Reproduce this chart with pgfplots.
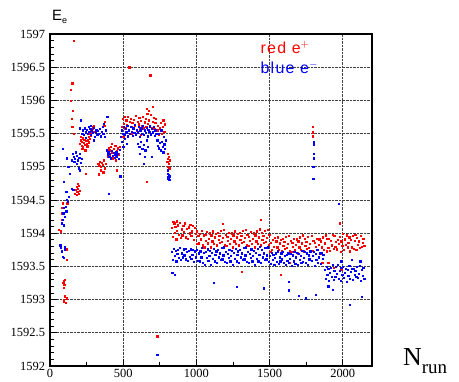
\documentclass[border=0pt]{standalone}
\usepackage{pgfplots}
\pgfplotsset{compat=1.18}
\usepackage{fontspec}
\setmainfont{Liberation Serif}
\newfontfamily\timesf{Liberation Serif}
\newfontfamily\helv{Liberation Sans}
\begin{document}
\begin{tikzpicture}
\begin{axis}[name=ax, scale only axis, width=322bp, height=332bp,
  xmin=0, xmax=2200, ymin=1592, ymax=1597,
  xtick={0,500,1000,1500,2000}, ytick={1592,1592.5,1593,1593.5,1594,1594.5,1595,1595.5,1596,1596.5,1597},
  xticklabels={0,500,1000,1500,2000},
  yticklabels={1592,1592.5,1593,1593.5,1594,1594.5,1595,1595.5,1596,1596.5,1597},
  minor x tick num=1, minor y tick num=4,
  tick align=inside, xtick pos=bottom, ytick pos=left,
  major tick length=7bp, minor tick length=3.5bp,
  tick style={black, line width=0.8pt},
  axis line style={black, line width=1.1pt},
  grid=major, major grid style={black!75, densely dotted, line width=0.7pt},
  yticklabel style={xshift=-1.5bp},
  tick label style={font=\timesf\fontsize{12.5}{14}\selectfont},
  clip=false]
\addplot[only marks, mark=square*, mark size=0.62bp, color=red] coordinates {
(62,1594.05)(75,1594.03)(80,1594.2)(82,1594.3)(84,1594.38)(86,1594.45)(90,1593.25)(92,1593.28)(95,1593.18)(97,1593.22)(100,1593.3)(92,1593.0)(96,1592.97)(100,1593.05)(105,1592.95)(112,1593.02)(115,1593.6)(110,1593.76)(118,1594.45)
(144,1596.16)(151,1596.26)(144,1595.99)(155,1595.84)(150,1595.73)(152,1595.6)(164,1595.5)(164,1596.9)
(170,1594.6)(175,1594.65)(180,1594.58)(183,1594.7)(186,1594.62)(190,1594.67)(194,1594.6)(198,1594.72)(202,1594.64)(188,1594.75)
(205,1595.35)(210,1595.4)(214,1595.32)(218,1595.38)(222,1595.43)(226,1595.3)(230,1595.36)(234,1595.41)(238,1595.33)(242,1595.39)(246,1595.44)(250,1595.35)(254,1595.31)(258,1595.4)(262,1595.37)(266,1595.45)(270,1595.42)(274,1595.5)(278,1595.47)(282,1595.55)(286,1595.52)(290,1595.58)(294,1595.6)(298,1595.53)(300,1595.62)(220,1595.27)(240,1595.25)(212,1595.45)(232,1595.48)(245,1594.9)(335,1594.89)
(330,1595.05)(336,1595.02)(342,1595.08)(348,1595.0)(354,1595.06)(360,1595.03)(366,1595.1)(372,1594.98)(378,1595.05)(345,1594.95)(364,1594.92)(370,1595.62)(375,1595.68)
(392,1595.2)(398,1595.15)(404,1595.25)(410,1595.18)(416,1595.3)(422,1595.22)(428,1595.13)(434,1595.27)(440,1595.2)(446,1595.32)(452,1595.16)(458,1595.24)(464,1595.28)(470,1595.19)(476,1595.3)(420,1595.35)(450,1595.1)(400,1595.28)(455,1594.95)
(490,1595.6)(496,1595.72)(502,1595.65)(508,1595.76)(514,1595.58)(520,1595.7)(526,1595.63)(532,1595.75)(538,1595.56)(544,1595.68)(550,1595.73)(556,1595.6)(562,1595.66)(568,1595.58)(574,1595.71)(580,1595.62)(586,1595.77)(592,1595.55)(598,1595.68)(604,1595.64)(610,1595.74)(616,1595.57)(622,1595.69)(628,1595.61)(634,1595.76)(640,1595.58)(646,1595.67)(652,1595.73)(658,1595.6)(664,1595.8)(670,1595.65)(676,1595.7)(682,1595.62)(688,1595.78)(694,1595.59)(700,1595.68)(706,1595.74)(712,1595.57)(718,1595.66)(724,1595.72)(660,1595.88)(700,1595.9)(672,1595.85)(560,1595.5)(620,1595.48)(520,1595.52)(500,1595.45)(663,1594.77)
(732,1595.55)(738,1595.62)(744,1595.48)(750,1595.58)(756,1595.66)(762,1595.5)(768,1595.6)(774,1595.7)(780,1595.53)(786,1595.64)(790,1595.4)
(800,1595.08)(803,1595.12)(806,1595.0)(809,1595.15)(812,1595.05)(815,1594.98)(818,1595.1)(805,1595.2)
(733,1592.45)(685,1596.38)(541,1596.5)
(832,1594.08)(838,1593.95)(844,1594.14)(850,1594.01)(856,1594.10)(862,1593.91)(868,1594.04)(874,1594.12)(880,1593.98)(886,1594.16)(892,1593.93)(898,1594.06)(904,1593.97)(910,1594.11)(916,1594.02)(922,1594.15)(928,1593.94)(934,1594.07)(940,1593.92)(946,1594.09)(952,1594.00)(958,1594.13)(964,1593.96)(970,1594.03)(976,1594.11)(982,1593.90)(988,1594.08)(994,1593.99)(841,1594.17)(853,1594.15)(866,1594.18)
(1000,1594.03)(1006,1593.84)(1012,1593.96)(1018,1593.85)(1024,1593.99)(1030,1593.91)(1036,1594.04)(1042,1593.82)(1048,1593.97)(1054,1593.79)(1060,1593.98)(1066,1593.89)(1072,1594.02)(1078,1593.85)(1084,1593.92)(1090,1594.00)(1096,1593.79)(1102,1593.97)(1108,1593.88)(1114,1594.03)(1120,1593.84)(1126,1593.94)(1132,1593.99)(1138,1593.82)(1144,1594.01)(1150,1593.90)(1156,1593.96)(1162,1593.86)(1168,1594.04)(1174,1593.87)(1180,1593.93)(1186,1594.05)(1192,1593.83)(1198,1593.98)(1204,1593.81)(1210,1593.95)(1216,1593.89)(1222,1594.01)(1228,1593.84)(1234,1593.92)(1240,1594.00)(1246,1593.79)(1252,1593.97)(1258,1593.88)(1264,1594.03)(1270,1593.84)(1276,1593.94)(1282,1593.99)(1288,1593.82)(1294,1594.01)(1300,1593.90)(1306,1593.96)(1312,1593.86)(1318,1594.04)(1324,1593.87)(1330,1593.93)(1336,1594.05)(1342,1593.83)(1348,1593.98)(1354,1593.81)(1360,1593.95)(1366,1593.89)(1372,1594.02)(1378,1593.84)(1384,1593.92)(1390,1594.00)(1396,1593.79)(1402,1593.97)(1408,1593.88)(1414,1594.03)(1420,1593.84)(1426,1593.94)(1432,1594.06)(1438,1593.82)(1444,1594.01)(1450,1593.90)(1456,1593.96)(1462,1593.86)(1468,1594.04)(1474,1593.87)(1480,1593.93)(1486,1594.05)(1492,1593.83)(1498,1593.98)
(1178,1594.14)(1438,1594.2)(1308,1593.42)(1575,1593.37)(1979,1594.15)(1640,1593.55)(1860,1593.55)(1820,1593.6)(1900,1593.55)(1940,1593.48)(1990,1593.45)
(1504,1593.72)(1510,1593.86)(1516,1593.75)(1522,1593.90)(1528,1593.80)(1534,1593.93)(1540,1593.71)(1546,1593.88)(1552,1593.79)(1558,1593.94)(1564,1593.75)(1570,1593.85)(1576,1593.90)(1582,1593.73)(1588,1593.92)(1594,1593.81)(1600,1593.87)(1606,1593.77)(1612,1593.95)(1618,1593.78)(1624,1593.84)(1630,1593.96)(1636,1593.74)(1642,1593.89)(1648,1593.72)(1654,1593.86)(1660,1593.80)(1666,1593.92)(1672,1593.75)(1678,1593.83)(1684,1593.91)(1690,1593.70)(1696,1593.88)(1702,1593.79)(1708,1593.94)(1714,1593.75)(1720,1593.85)(1726,1593.97)(1732,1593.73)(1738,1593.92)(1744,1593.81)(1750,1593.87)(1756,1593.77)(1762,1593.95)(1768,1593.78)(1774,1593.84)(1786,1593.96)(1792,1593.74)(1798,1593.89)(1804,1593.72)(1810,1593.86)(1816,1593.80)(1822,1593.92)(1828,1593.75)(1834,1593.83)(1840,1593.91)(1846,1593.70)(1852,1593.88)(1858,1593.79)(1864,1593.94)(1870,1593.75)(1876,1593.85)(1882,1593.97)(1888,1593.73)(1894,1593.92)
(1795,1595.6)(1795,1595.46)(1797,1595.52)
(1900,1593.78)(1906,1593.92)(1912,1593.74)(1918,1593.89)(1924,1593.82)(1930,1593.98)(1936,1593.77)(1942,1593.96)(1948,1593.80)(1954,1593.87)(1960,1593.76)(1966,1593.90)(1972,1593.84)(1978,1593.95)(1984,1593.72)(1990,1593.88)(1996,1593.81)(2002,1593.99)(2008,1593.75)(2014,1593.91)(2020,1593.83)(2026,1593.97)(2032,1593.79)(2038,1593.86)(2044,1593.94)(2050,1593.73)(2056,1593.90)(2062,1593.79)(2068,1593.96)(2074,1593.77)(2080,1593.89)(2086,1593.98)(2092,1593.75)(2098,1593.93)(2104,1593.83)(2110,1593.88)(2116,1593.78)(2122,1593.96)(2128,1593.80)(2134,1593.86)(2140,1593.92)(2146,1593.81)
};
\addplot[only marks, mark=square*, mark size=0.62bp, color=blue] coordinates {
(70,1593.82)(75,1593.78)(78,1593.72)(82,1593.73)(85,1593.65)(96,1593.63)(100,1593.8)(103,1593.76)(82,1594.15)(86,1594.2)(90,1594.3)(92,1594.12)(95,1594.38)(100,1594.25)(105,1594.4)(110,1594.33)(96,1594.77)(110,1594.63)(115,1594.5)(120,1594.48)(130,1594.55)(150,1594.67)(158,1594.66)
(89,1595.27)(115,1595.13)(125,1595.0)(135,1594.9)(150,1595.1)(155,1595.2)(160,1595.15)(165,1595.08)(170,1595.12)(175,1595.22)(180,1595.05)(185,1595.17)(190,1595.1)(195,1594.98)(200,1595.14)(205,1595.2)(210,1595.06)(215,1595.12)(205,1594.95)(205,1595.58)(210,1595.7)
(220,1595.5)(226,1595.55)(232,1595.48)(238,1595.58)(244,1595.52)(250,1595.56)(256,1595.5)(262,1595.6)(268,1595.53)(274,1595.57)(280,1595.48)(286,1595.55)(292,1595.51)(298,1595.59)(304,1595.45)(310,1595.52)(316,1595.56)(322,1595.48)(328,1595.54)(334,1595.5)(340,1595.57)(346,1595.46)(352,1595.53)(358,1595.6)(364,1595.5)(244,1595.44)(280,1595.62)(300,1595.4)
(385,1595.25)(392,1595.18)(398,1595.22)(404,1595.15)(410,1595.2)(416,1595.13)(422,1595.24)(428,1595.17)(434,1595.21)(440,1595.14)(446,1595.19)(452,1595.23)(458,1595.16)(464,1595.2)(470,1595.12)(476,1595.26)(372,1595.45)(378,1595.55)(365,1595.65)(390,1595.75)(400,1594.6)(480,1594.86)
(485,1595.45)(491,1595.55)(497,1595.5)(503,1595.6)(509,1595.48)(515,1595.57)(521,1595.52)(527,1595.62)(533,1595.46)(539,1595.55)(545,1595.5)(551,1595.6)(557,1595.53)(563,1595.47)(569,1595.58)(575,1595.51)(581,1595.63)(587,1595.49)(593,1595.56)(599,1595.52)(605,1595.6)(611,1595.45)(617,1595.54)(623,1595.58)(629,1595.5)(635,1595.62)(641,1595.48)(647,1595.55)(653,1595.51)(659,1595.59)(665,1595.46)(671,1595.56)(677,1595.53)(683,1595.61)(689,1595.49)(695,1595.57)(701,1595.52)(707,1595.6)(713,1595.47)(719,1595.55)(725,1595.5)(490,1595.38)(510,1595.42)(500,1595.3)(525,1595.35)
(600,1595.35)(610,1595.3)(620,1595.38)(630,1595.27)(640,1595.33)(650,1595.25)(660,1595.4)(670,1595.3)(615,1595.2)(645,1595.15)(640,1595.05)(697,1595.15)
(732,1595.4)(738,1595.32)(744,1595.28)(750,1595.36)(756,1595.25)(762,1595.38)(768,1595.3)(774,1595.22)(780,1595.34)(786,1595.27)(740,1595.5)(760,1595.55)(775,1595.45)(790,1595.4)
(802,1594.85)(805,1594.9)(808,1594.82)(811,1594.88)(814,1594.8)(817,1594.86)(806,1594.95)
(733,1592.17)
(833,1593.72)(839,1593.60)(845,1593.77)(851,1593.66)(857,1593.74)(863,1593.58)(869,1593.69)(875,1593.75)(881,1593.63)(887,1593.78)(893,1593.60)(899,1593.70)(905,1593.64)(911,1593.76)(917,1593.67)(923,1593.77)(929,1593.61)(935,1593.72)(941,1593.59)(947,1593.74)(953,1593.65)(959,1593.76)(965,1593.62)(971,1593.68)(977,1593.75)(983,1593.57)(989,1593.73)(995,1593.64)(835,1593.4)(850,1593.37)
(1003,1593.75)(1009,1593.59)(1015,1593.70)(1021,1593.58)(1027,1593.73)(1033,1593.64)(1039,1593.78)(1045,1593.56)(1051,1593.71)(1057,1593.53)(1063,1593.72)(1069,1593.63)(1075,1593.76)(1081,1593.59)(1087,1593.66)(1093,1593.74)(1099,1593.53)(1105,1593.71)(1111,1593.62)(1117,1593.77)(1123,1593.58)(1129,1593.68)(1135,1593.73)(1141,1593.56)(1147,1593.75)(1153,1593.64)(1159,1593.70)(1165,1593.60)(1171,1593.78)(1177,1593.61)(1183,1593.67)(1189,1593.79)(1195,1593.57)(1201,1593.72)(1207,1593.55)(1213,1593.69)(1219,1593.63)(1225,1593.75)(1231,1593.58)(1237,1593.66)(1243,1593.74)(1249,1593.53)(1255,1593.71)(1261,1593.62)(1267,1593.77)(1273,1593.58)(1279,1593.68)(1285,1593.73)(1291,1593.56)(1297,1593.75)(1303,1593.64)(1309,1593.70)(1315,1593.60)(1321,1593.78)(1327,1593.61)(1333,1593.67)(1339,1593.79)(1345,1593.57)(1351,1593.72)(1357,1593.55)(1363,1593.69)(1369,1593.63)(1375,1593.76)(1381,1593.58)(1387,1593.66)(1393,1593.74)(1399,1593.53)(1405,1593.71)(1411,1593.62)(1417,1593.77)(1423,1593.58)(1429,1593.68)(1435,1593.80)(1441,1593.56)(1447,1593.75)(1453,1593.64)(1459,1593.70)(1465,1593.60)(1471,1593.78)(1477,1593.61)(1483,1593.67)(1489,1593.79)(1495,1593.57)
(1501,1593.66)(1507,1593.54)(1513,1593.71)(1519,1593.60)(1525,1593.68)(1531,1593.52)(1537,1593.63)(1543,1593.70)(1549,1593.57)(1555,1593.73)(1561,1593.54)(1567,1593.64)(1573,1593.58)(1579,1593.70)(1585,1593.61)(1591,1593.72)(1597,1593.55)(1603,1593.66)(1609,1593.53)(1615,1593.68)(1621,1593.59)(1627,1593.70)(1633,1593.56)(1639,1593.62)(1645,1593.69)(1651,1593.51)(1657,1593.67)(1663,1593.58)(1669,1593.72)(1675,1593.54)(1681,1593.64)(1687,1593.71)(1693,1593.52)(1699,1593.69)(1705,1593.60)(1711,1593.66)(1717,1593.56)(1723,1593.74)(1729,1593.57)(1735,1593.63)(1741,1593.72)(1747,1593.55)(1753,1593.70)(1759,1593.53)(1765,1593.67)(1771,1593.61)(1777,1593.73)(1789,1593.59)(1795,1593.66)(1801,1593.72)(1807,1593.51)(1813,1593.69)(1819,1593.60)(1825,1593.75)(1831,1593.56)(1837,1593.64)(1843,1593.70)(1849,1593.54)(1855,1593.71)(1861,1593.62)(1867,1593.68)
(1876,1593.45)(1882,1593.32)(1888,1593.49)(1894,1593.38)(1900,1593.47)(1906,1593.28)(1912,1593.41)(1918,1593.48)(1924,1593.35)(1930,1593.52)(1936,1593.30)(1942,1593.43)(1948,1593.34)(1954,1593.49)(1960,1593.39)(1966,1593.52)(1972,1593.31)(1978,1593.44)(1984,1593.29)(1990,1593.48)(1996,1593.37)(2002,1593.50)(2008,1593.33)(2014,1593.40)(2020,1593.47)(2026,1593.27)(2032,1593.45)(2038,1593.36)(2044,1593.51)(2050,1593.32)(2056,1593.42)(2062,1593.46)(2068,1593.30)(2074,1593.47)(2080,1593.38)(2086,1593.44)(2092,1593.34)(2098,1593.50)(2104,1593.33)(2110,1593.39)(2116,1593.51)(2122,1593.29)(2128,1593.45)(2134,1593.36)(2140,1593.48)(2146,1593.31)(2120,1593.58)(2060,1593.6)(1990,1593.58)
(1630,1593.14)(1630,1593.27)(1747,1593.02)(1700,1593.06)(1815,1593.07)(2130,1593.04)(2048,1592.92)(1458,1593.17)(1274,1593.19)(1116,1593.26)(1973,1594.44)(1930,1593.15)(1900,1593.2)
(1800,1595.33)(1800,1595.37)(1801,1595.2)(1800,1595.13)(1799,1595.0)(1798,1594.82)
};
\node[anchor=base west, text=red, font=\helv\fontsize{16}{18}\selectfont\addfontfeature{LetterSpace=8}] at (rel axis cs:0.643,0.94) {red e$^{+}$};
\node[anchor=base west, text=blue, font=\helv\fontsize{16}{18}\selectfont\addfontfeature{LetterSpace=8}] at (rel axis cs:0.643,0.88) {blue e$^{-}$};
\node[anchor=base west, inner sep=0pt, font=\helv\fontsize{15}{17}\selectfont] at ([xshift=2bp,yshift=13bp]rel axis cs:0,1) {E\raisebox{-3bp}{\fontsize{9}{10}\selectfont e}};
\node[anchor=base west, inner sep=0pt, font=\timesf] at ([xshift=31bp]rel axis cs:1,0) {\fontsize{26}{28}\selectfont N\raisebox{-8bp}{\fontsize{19}{20}\selectfont run}};
\end{axis}
\path ([xshift=-50bp,yshift=-14bp]ax.south west) rectangle ([xshift=87bp,yshift=34bp]ax.north east);
\end{tikzpicture}
\end{document}
